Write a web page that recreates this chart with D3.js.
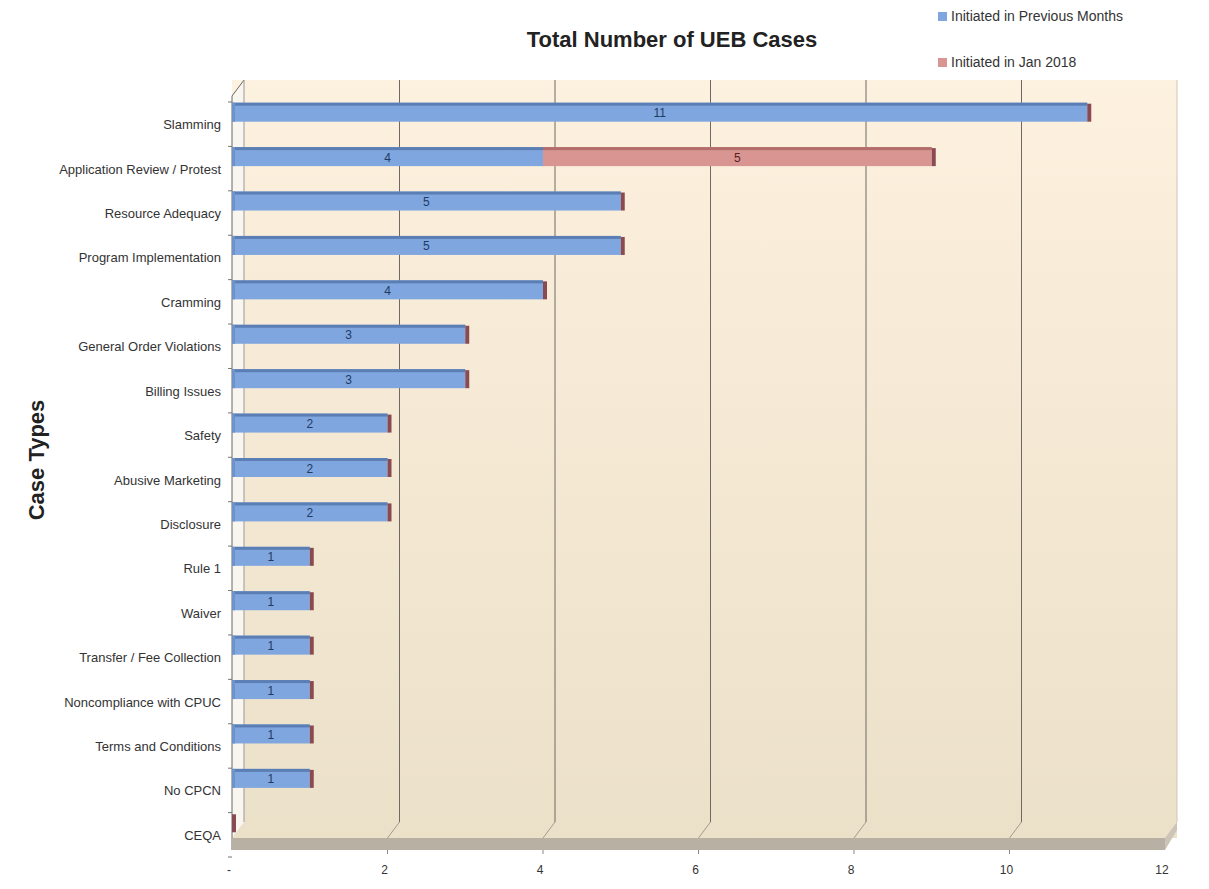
<!DOCTYPE html>
<html>
<head>
<meta charset="utf-8">
<script src="https://cdn.jsdelivr.net/npm/d3@7"></script>
<style>
  body { margin: 0; background: #fff; }
  text { font-family: "Liberation Sans", "DejaVu Sans", sans-serif; }
</style>
</head>
<body>
<svg width="1209" height="889"></svg>
<script>
var categories = ["Slamming", "Application Review / Protest", "Resource Adequacy", "Program Implementation",
  "Cramming", "General Order Violations", "Billing Issues", "Safety", "Abusive Marketing", "Disclosure",
  "Rule 1", "Waiver", "Transfer / Fee Collection", "Noncompliance with CPUC", "Terms and Conditions",
  "No CPCN", "CEQA"];
var previousMonths = [11, 4, 5, 5, 4, 3, 3, 2, 2, 2, 1, 1, 1, 1, 1, 1, 0];
var jan2018 = [0, 5, 0, 0, 0, 0, 0, 0, 0, 0, 0, 0, 0, 0, 0, 0, 0];
var xTicks = [0, 2, 4, 6, 8, 10, 12];
var seriesNames = ["Initiated in Previous Months", "Initiated in Jan 2018"];

var svg = d3.select("svg");
var dx = 12, dy = -16;  // depth offset of the back wall
var x = d3.scaleLinear().domain([0, 12]).range([232, 1165]);
var y = d3.scaleBand().domain(categories).range([90, 845]);
var plotTop = 80, floorTop = 838, floorBot = 850;

var defs = svg.append("defs");
var wallGrad = defs.append("linearGradient").attr("id", "wall").attr("x1", 0).attr("y1", 0).attr("x2", 0).attr("y2", 1);
wallGrad.append("stop").attr("offset", "0%").attr("stop-color", "#fdf1df");
wallGrad.append("stop").attr("offset", "100%").attr("stop-color", "#ebe0c8");

// back wall (continues onto the floor top)
svg.append("rect").attr("x", x(0)).attr("y", plotTop).attr("width", x(12) - x(0) + dx)
  .attr("height", floorTop - plotTop).attr("fill", "url(#wall)");
// left wall
svg.append("polygon")
  .attr("points", [[x(0), plotTop - dy], [x(0) + dx, plotTop], [x(0) + dx, floorTop + dy], [x(0), floorTop]].join(" "))
  .attr("fill", "#f9f6f0");
svg.append("line").attr("x1", x(0)).attr("x2", x(0)).attr("y1", plotTop - dy).attr("y2", floorBot)
  .attr("stroke", "#666");
svg.append("line").attr("x1", x(0)).attr("x2", x(0) + dx).attr("y1", plotTop - dy).attr("y2", plotTop)
  .attr("stroke", "#666");
svg.append("line").attr("x1", x(0) + dx).attr("x2", x(0) + dx).attr("y1", plotTop).attr("y2", floorTop + dy)
  .attr("stroke", "#999");
// floor front and side faces
svg.append("rect").attr("x", x(0)).attr("y", floorTop).attr("width", x(12) - x(0))
  .attr("height", floorBot - floorTop).attr("fill", "#b8b0a2");
svg.append("polygon")
  .attr("points", [[x(12), floorTop], [x(12) + dx, floorTop + dy], [x(12) + dx, floorBot + dy - 4], [x(12), floorBot]].join(" "))
  .attr("fill", "#ccc4b6");
svg.append("line").attr("x1", x(12) + dx).attr("x2", x(12) + dx).attr("y1", plotTop).attr("y2", floorTop + dy)
  .attr("stroke", "#cfc6b5");

// gridlines on back wall and floor
xTicks.slice(1, 6).forEach(function(t) {
  svg.append("line").attr("x1", x(t) + dx).attr("x2", x(t) + dx).attr("y1", plotTop).attr("y2", floorTop + dy)
    .attr("stroke", "#6e6a63").attr("stroke-width", 1);
  svg.append("line").attr("x1", x(t) + dx).attr("x2", x(t)).attr("y1", floorTop + dy).attr("y2", floorTop)
    .attr("stroke", "#a39b8c").attr("stroke-width", 1);
  svg.append("line").attr("x1", x(t)).attr("x2", x(t)).attr("y1", floorBot).attr("y2", floorBot + 4)
    .attr("stroke", "#888");
});

// x tick labels
svg.append("g").selectAll("text").data(xTicks).enter().append("text")
  .attr("x", function(d) { return x(d) - 3; })
  .attr("y", 874)
  .attr("text-anchor", "middle")
  .attr("font-size", 12).attr("fill", "#333")
  .text(function(d) { return d === 0 ? "-" : d; });

// category ticks and labels
svg.append("g").selectAll("line").data(categories.concat(["_end"])).enter().append("line")
  .attr("x1", x(0) - 4).attr("x2", x(0))
  .attr("y1", function(d, i) { return 90 + i * y.step() + 12; })
  .attr("y2", function(d, i) { return 90 + i * y.step() + 12; })
  .attr("stroke", "#777");
svg.append("g").selectAll("text").data(categories).enter().append("text")
  .attr("x", 221)
  .attr("y", function(d) { return y(d) + y.bandwidth() / 2 + 17; })
  .attr("text-anchor", "end")
  .attr("font-size", 13).attr("fill", "#333")
  .text(function(d) { return d; });

// bars
var barH = 19;
var colors = { front: ["#7fa6df", "#d99592"], top: ["#5b7fb4", "#b36e6b"], end: ["#4f6f9f", "#8a4a52"] };
categories.forEach(function(c, i) {
  var cy = y(c) + y.bandwidth() / 2;
  var segs = [[0, previousMonths[i]], [previousMonths[i], previousMonths[i] + jan2018[i]]];
  segs.forEach(function(s, k) {
    if (s[1] - s[0] <= 0) return;
    var g = svg.append("g");
    g.append("rect").attr("x", x(s[0])).attr("y", cy - barH / 2).attr("width", x(s[1]) - x(s[0]))
      .attr("height", barH).attr("fill", colors.front[k]);
    g.append("rect").attr("x", x(s[0])).attr("y", cy - barH / 2).attr("width", x(s[1]) - x(s[0]))
      .attr("height", 3).attr("fill", colors.top[k]);
    g.append("text").attr("x", (x(s[0]) + x(s[1])) / 2).attr("y", cy + 5)
      .attr("text-anchor", "middle").attr("font-size", 12)
      .attr("fill", k === 0 ? "#1f3b63" : "#5a1f1d").text(s[1] - s[0]);
  });
  // end face of the stack (the last series sits at the end)
  var total = previousMonths[i] + jan2018[i];
  svg.append("rect").attr("x", x(total)).attr("y", cy - barH / 2 + 1).attr("width", 4).attr("height", barH - 1)
    .attr("fill", colors.end[1]);
  // rounded left edge
  if (total > 0) {
    svg.append("rect").attr("x", x(0)).attr("y", cy - barH / 2).attr("width", 3).attr("height", barH)
      .attr("fill", "#6d93c9");
  }
});

// title
svg.append("text").attr("x", 672).attr("y", 47).attr("text-anchor", "middle")
  .attr("font-size", 22).attr("font-weight", "bold").attr("fill", "#222")
  .text("Total Number of UEB Cases");
svg.append("text").attr("transform", "translate(44,460) rotate(-90)").attr("text-anchor", "middle")
  .attr("font-size", 22).attr("font-weight", "bold").attr("fill", "#222")
  .text("Case Types");

// legend
var legend = svg.append("g").selectAll("g").data(seriesNames).enter().append("g")
  .attr("transform", function(d, i) { return "translate(938," + (10 + i * 46) + ")"; });
legend.append("rect").attr("width", 9).attr("height", 9).attr("y", 2)
  .attr("fill", function(d, i) { return colors.front[i]; });
legend.append("text").attr("x", 13).attr("y", 11).attr("font-size", 14).attr("fill", "#333")
  .text(function(d) { return d; });
</script>
</body>
</html>
